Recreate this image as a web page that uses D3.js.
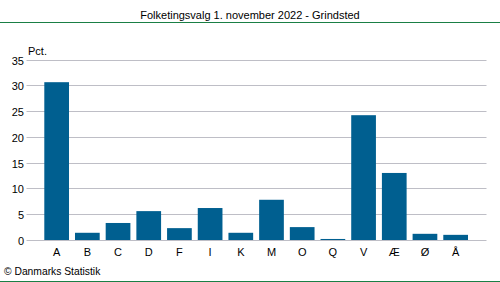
<!DOCTYPE html>
<html>
<head>
<meta charset="utf-8">
<script src="https://cdn.jsdelivr.net/npm/d3@7"></script>
<style>
  body { margin: 0; background: #fff; }
  text { font-family: "Liberation Sans", Arial, sans-serif; }
</style>
</head>
<body>
<div id="chart"></div>
<script>
const categories = ["A", "B", "C", "D", "F", "I", "K", "M", "O", "Q", "V", "Æ", "Ø", "Å"];
const values = [30.6, 1.4, 3.3, 5.6, 2.3, 6.2, 1.4, 7.8, 2.5, 0.2, 24.2, 13.0, 1.2, 1.0];
const yTicks = [0, 5, 10, 15, 20, 25, 30, 35];

const width = 500, height = 282;
const svg = d3.select("#chart").append("svg")
  .attr("width", width)
  .attr("height", height);

// title + green rules
svg.append("text")
  .attr("x", 250).attr("y", 19)
  .attr("text-anchor", "middle")
  .style("font-size", "11px")
  .style("fill", "#000")
  .text("Folketingsvalg 1. november 2022 - Grindsted");

svg.append("line")
  .attr("x1", 0).attr("x2", width)
  .attr("y1", 22.5).attr("y2", 22.5)
  .attr("stroke", "#1a7f45").attr("stroke-width", 1);

svg.append("line")
  .attr("x1", 0).attr("x2", width)
  .attr("y1", 281.5).attr("y2", 281.5)
  .attr("stroke", "#1a7f45").attr("stroke-width", 1);

const x0 = 26.5, x1 = 486.5;
const y = d3.scaleLinear().domain([0, 35]).range([240, 59.5]);
const x = d3.scaleBand().domain(categories).range([44.3, 468]).paddingInner(0.195);

// grid
svg.append("g")
  .selectAll("line")
  .data(yTicks)
  .join("line")
    .attr("x1", x0).attr("x2", x1)
    .attr("y1", d => Math.round(y(d)) + 0.5)
    .attr("y2", d => Math.round(y(d)) + 0.5)
    .attr("stroke", "#bebec6")
    .attr("stroke-width", 1);

// y tick labels
svg.append("g")
  .selectAll("text")
  .data(yTicks)
  .join("text")
    .attr("x", 24)
    .attr("y", d => Math.round(y(d)) + 4.5)
    .attr("text-anchor", "end")
    .style("font-size", "11px")
    .style("fill", "#000")
    .text(d => d);

svg.append("text")
  .attr("x", 28).attr("y", 55)
  .style("font-size", "11px")
  .text("Pct.");

// bars
svg.append("g")
  .selectAll("rect")
  .data(values)
  .join("rect")
    .attr("x", (d, i) => x(categories[i]))
    .attr("y", d => y(d))
    .attr("width", x.bandwidth())
    .attr("height", d => y(0) - y(d))
    .attr("fill", "#005f90");

// x labels
svg.append("g")
  .selectAll("text")
  .data(categories)
  .join("text")
    .attr("x", d => x(d) + x.bandwidth() / 2)
    .attr("y", 256)
    .attr("text-anchor", "middle")
    .style("font-size", "11px")
    .text(d => d);

svg.append("text")
  .attr("x", 4).attr("y", 275)
  .style("font-size", "10.3px")
  .text("© Danmarks Statistik");
</script>
</body>
</html>
